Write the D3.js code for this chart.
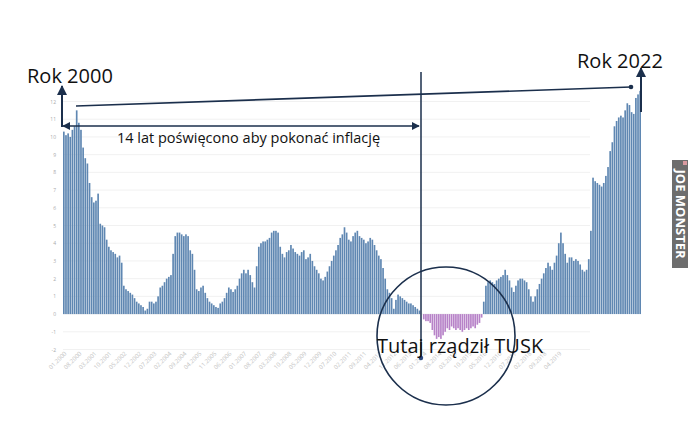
<!DOCTYPE html>
<html>
<head>
<meta charset="utf-8">
<script src="https://cdn.jsdelivr.net/npm/d3@7"></script>
<style>
    body { margin: 0; background: #fff; }
    svg { display: block; font-family: "Open Sans", sans-serif; }
</style>
</head>
<body>
<svg class="svg" width="700" height="423"></svg>
<script>
// inflacja r/r, miesiecznie od 01.2000
let values = [
    10.3, 10.1, 10.2, 10.0, 10.4, 10.6, 11.5, 10.8, 10.4, 9.4, 8.8, 8.5,
    7.4, 6.6, 6.3, 6.4, 6.8, 5.1, 5.0, 4.9, 4.2, 3.8, 3.6, 3.5,
    3.4, 3.2, 3.3, 2.9, 1.6, 1.4, 1.3, 1.2, 1.1, 0.9, 0.7, 0.6,
    0.5, 0.4, 0.2, 0.3, 0.7, 0.7, 0.6, 0.7, 1.0, 1.5, 1.6, 1.8,
    2.0, 2.1, 2.2, 3.4, 4.4, 4.6, 4.6, 4.5, 4.4, 4.5, 4.4, 3.6,
    3.4, 2.5, 1.4, 1.3, 1.5, 1.6, 1.2, 0.9, 0.7, 0.6, 0.5, 0.4,
    0.35, 0.6, 0.7, 0.9, 1.2, 1.5, 1.4, 1.25, 1.4, 1.6, 2.0, 2.3,
    2.5, 2.3, 2.5, 2.2, 1.8, 1.5, 2.7, 3.8, 4.0, 4.1, 4.1, 4.2,
    4.3, 4.6, 4.7, 4.7, 4.6, 3.8, 3.4, 3.2, 3.5, 3.6, 3.9, 3.7,
    3.5, 3.4, 3.3, 3.5, 3.6, 3.1, 3.2, 3.4, 3.0, 2.7, 2.5, 2.3,
    2.0, 1.9, 2.1, 2.4, 2.7, 3.0, 3.3, 3.6, 3.9, 4.3, 4.5, 4.9,
    4.6, 4.2, 4.1, 4.4, 4.6, 4.7, 4.4, 4.3, 4.2, 4.0, 4.1, 4.3,
    4.2, 3.9, 3.6, 3.3, 3.1, 2.6, 2.0, 1.4, 1.2, 0.9, 0.3, 0.8,
    1.1, 1.0, 0.9, 0.8, 0.7, 0.6, 0.6, 0.5, 0.4, 0.3, 0.2, 0.0,
    -0.3, -0.4, -0.4, -0.5, -0.9, -1.2, -1.4, -1.3, -1.4, -1.2, -1.0, -0.8,
    -0.9, -0.7, -0.8, -0.9, -0.8, -0.9, -1.0, -0.9, -0.8, -0.9, -0.8, -0.7,
    -0.8, -0.6, -0.5, -0.2, 0.7, 1.6, 1.8, 1.9, 1.8, 1.7, 1.9, 2.0,
    2.1, 2.2, 2.5, 2.2, 1.9, 1.5, 1.25, 1.6, 1.9, 2.0, 2.0, 1.9,
    1.8, 1.4, 1.0, 0.7, 1.0, 1.4, 1.7, 2.0, 2.3, 2.6, 2.9, 2.7,
    2.5, 2.9, 3.3, 4.0, 4.6, 4.0, 3.4, 2.9, 3.2, 3.2, 3.0, 3.1,
    3.0, 2.8, 2.5, 2.4, 2.5, 3.1, 4.7, 7.7, 7.5, 7.4, 7.3, 7.2,
    7.4, 7.8, 8.3, 9.2, 9.7, 10.6, 10.9, 11.1, 11.2, 11.1, 11.5, 11.9,
    11.8, 11.4, 11.3, 12.2, 12.4, 12.6
];

let yTicks = [-2, -1, 0, 1, 2, 3, 4, 5, 6, 7, 8, 9, 10, 11, 12];
let tickStep = 7;
let tickLabels = ['01.2000','08.2000','03.2001','10.2001','05.2002','12.2002','07.2003','02.2004',
    '09.2004','04.2005','11.2005','06.2006','01.2007','08.2007','03.2008','10.2008','05.2009',
    '12.2009','07.2010','02.2011','09.2011','04.2012','11.2012','06.2013','01.2014','08.2014',
    '03.2015','10.2015','05.2016','12.2016','07.2017','02.2018','09.2018','04.2019'];

let blue = '#5f87b2', purple = '#b782c8', navy = '#1b2f4c';

let svg = d3.select('.svg');

let x = d3.scaleBand().domain(d3.range(values.length)).range([63, 641]).paddingInner(0.22);
let y = d3.scaleLinear().domain([-2, 12]).range([349.5, 101.5]);

// siatka
svg.append('g').selectAll('line').data(yTicks).enter().append('line')
    .attr('x1', 63).attr('x2', 590)
    .attr('y1', d => y(d)).attr('y2', d => y(d))
    .attr('stroke', '#f1f1f1').attr('stroke-width', 1);

svg.append('g').selectAll('text').data(yTicks).enter().append('text')
    .attr('x', 56).attr('y', d => y(d) + 2)
    .attr('text-anchor', 'end')
    .style('font-size', '5px').style('fill', '#aaa')
    .text(d => d);

// slupki
svg.append('g').selectAll('rect').data(values).enter().append('rect')
    .attr('x', (d, i) => x(i))
    .attr('width', x.bandwidth())
    .attr('y', d => y(Math.max(0, d)))
    .attr('height', d => Math.abs(y(d) - y(0)))
    .attr('fill', d => d < 0 ? purple : blue);

// daty
svg.append('g').selectAll('text').data(tickLabels).enter().append('text')
    .attr('transform', (d, i) => 'translate(' + (x(i * tickStep) + 4) + ',354) rotate(-45)')
    .attr('text-anchor', 'end')
    .style('font-size', '6px').style('fill', '#c4c4c4')
    .text(d => d);

// strzalki
let defs = svg.append('defs');
defs.append('marker').attr('id', 'arr')
    .attr('viewBox', '0 0 10 10').attr('refX', 9).attr('refY', 5)
    .attr('markerWidth', 5).attr('markerHeight', 5).attr('orient', 'auto-start-reverse')
    .append('path').attr('d', 'M0,0L10,5L0,10z').attr('fill', navy);

svg.append('line').attr('x1', 62).attr('y1', 127).attr('x2', 62).attr('y2', 86)
    .attr('stroke', navy).attr('stroke-width', 2).attr('marker-end', 'url(#arr)');

svg.append('line').attr('x1', 63).attr('y1', 126).attr('x2', 419).attr('y2', 126)
    .attr('stroke', navy).attr('stroke-width', 1.6)
    .attr('marker-start', 'url(#arr)').attr('marker-end', 'url(#arr)');

svg.append('line').attr('x1', 76).attr('y1', 106).attr('x2', 631).attr('y2', 87)
    .attr('stroke', navy).attr('stroke-width', 1.6);
svg.append('circle').attr('cx', 631).attr('cy', 87).attr('r', 2.3).attr('fill', navy);

svg.append('line').attr('x1', 641).attr('y1', 112).attr('x2', 641).attr('y2', 68)
    .attr('stroke', navy).attr('stroke-width', 2).attr('marker-end', 'url(#arr)');

// Tusk
svg.append('line').attr('x1', 421).attr('y1', 72).attr('x2', 421).attr('y2', 358)
    .attr('stroke', navy).attr('stroke-width', 1.5);
svg.append('circle').attr('cx', 421).attr('cy', 358).attr('r', 2.2).attr('fill', '#2b4a80');

svg.append('circle').attr('cx', 446).attr('cy', 336).attr('r', 69)
    .attr('fill', 'none').attr('stroke', navy).attr('stroke-width', 1.6);

// napisy
svg.append('text').attr('x', 27).attr('y', 83).text('Rok 2000')
    .style('font-size', '20px').style('fill', '#111');
svg.append('text').attr('x', 577).attr('y', 68).text('Rok 2022')
    .style('font-size', '20px').style('fill', '#111');
svg.append('text').attr('x', 117).attr('y', 143).text('14 lat poświęcono aby pokonać inflację')
    .style('font-size', '14.5px').style('fill', '#111');
svg.append('text').attr('x', 377).attr('y', 353).text('Tutaj rządził TUSK')
    .style('font-size', '20px').style('fill', '#111');

// znak wodny
let wm = svg.append('g').attr('transform', 'translate(672,160)');
wm.append('rect').attr('width', 16).attr('height', 108).attr('fill', '#6d6d6d');
wm.append('rect').attr('x', 11).attr('y', 1).attr('width', 4).attr('height', 4).attr('fill', '#d99aa0');
wm.append('text').attr('transform', 'translate(3.5,54) rotate(90)')
    .attr('text-anchor', 'middle')
    .style('font-size', '13px').style('font-weight', 'bold').style('fill', '#fff')
    .text('JOE MONSTER');
</script>
</body>
</html>
